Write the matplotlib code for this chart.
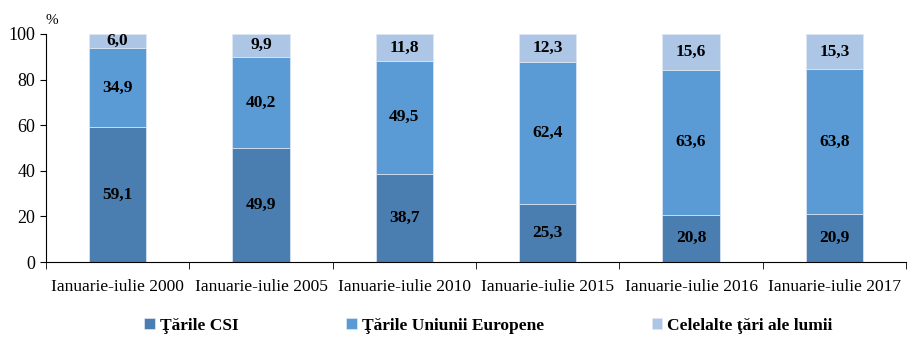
import numpy as np
import matplotlib.pyplot as plt

categories = ["Ianuarie-iulie 2000", "Ianuarie-iulie 2005", "Ianuarie-iulie 2010",
              "Ianuarie-iulie 2015", "Ianuarie-iulie 2016", "Ianuarie-iulie 2017"]
csi = [59.1, 49.9, 38.7, 25.3, 20.8, 20.9]
ue = [34.9, 40.2, 49.5, 62.4, 63.6, 63.8]
other = [6.0, 9.9, 11.8, 12.3, 15.6, 15.3]
series_names = ["Ţările CSI", "Ţările Uniunii Europene", "Celelalte ţări ale lumii"]
colors = ["#4a7eb0", "#5b9bd5", "#adc6e6"]

plt.rcParams['font.family'] = ['Liberation Serif', 'DejaVu Serif']
plt.rcParams['font.size'] = 12.5

fig = plt.figure(figsize=(9.18, 3.43), dpi=100)
ax = fig.add_axes([0.0501, 0.236, 0.937, 0.665])

x = np.arange(len(categories))
w = 0.4
bottom = np.zeros(len(categories))
for vals, name, c in zip([csi, ue, other], series_names, colors):
    vals = np.array(vals)
    ax.bar(x, vals, w, bottom=bottom, color=c, label=name, edgecolor='#dfe8f3', linewidth=0.5)
    for xi, b, v in zip(x, bottom, vals):
        ax.text(xi, b + v / 2, f"{v:.1f}".replace('.', ','), ha='center', va='center',
                fontweight='bold', fontsize=12.5)
    bottom += vals

ax.set_xlim(-0.5, len(categories) - 0.5)
ax.set_ylim(0, 100)
ax.set_yticks([0, 20, 40, 60, 80, 100])
ax.set_xticks(x)
ax.set_xticklabels(categories)
ax.set_xticks(np.arange(len(categories) + 1) - 0.5, minor=True)
ax.tick_params(axis='x', which='major', length=0, pad=12)
ax.tick_params(axis='x', which='minor', length=5, direction='out')
ax.tick_params(axis='y', length=4, direction='out', labelsize=13)
for s in ['top', 'right']:
    ax.spines[s].set_visible(False)
ax.text(0.0, 1.045, "%", transform=ax.transAxes, fontsize=11)

handles, labels = ax.get_legend_handles_labels()
leg = fig.legend(handles, labels, loc='center', bbox_to_anchor=(0.532, 0.05), ncol=3,
                 frameon=False, handlelength=0.6, handleheight=0.6, handletextpad=0.3,
                 columnspacing=6.2, prop={'weight': 'bold', 'size': 12.5})

fig.savefig("out.png", dpi=100)
